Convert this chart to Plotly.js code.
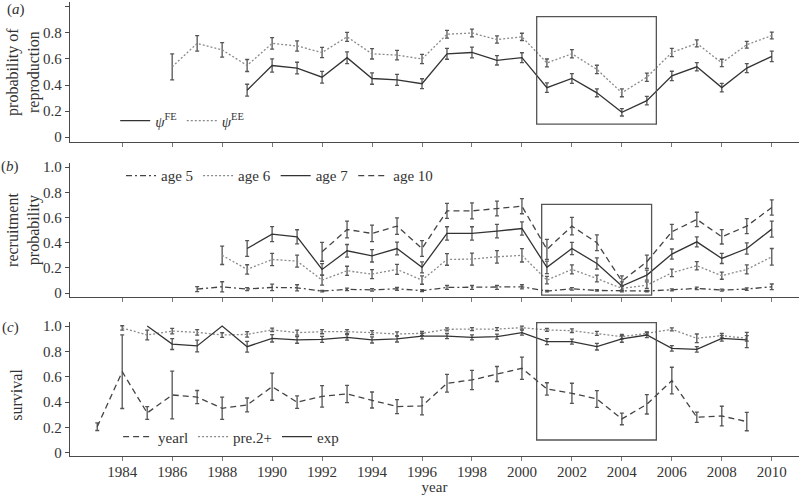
<!DOCTYPE html>
<html>
<head>
<meta charset="utf-8">
<script src="https://cdn.plot.ly/plotly-3.0.1.min.js"></script>
<style>html,body{margin:0;padding:0;background:#fff;}#chart{width:799px;height:495px;}</style>
</head>
<body>
<div id="chart"></div>
<script>
// ---------- Panel (a): probability of reproduction ----------
const yearsEE = [1986,1987,1988,1989,1990,1991,1992,1993,1994,1995,1996,1997,1998,1999,2000,2001,2002,2003,2004,2005,2006,2007,2008,2009,2010];
const psiEE    = [0.54,0.72,0.67,0.55,0.72,0.70,0.65,0.77,0.64,0.63,0.60,0.79,0.80,0.75,0.77,0.57,0.64,0.52,0.34,0.46,0.65,0.72,0.57,0.71,0.78];
const psiEEerr = [0.10,0.06,0.056,0.046,0.044,0.04,0.04,0.035,0.04,0.036,0.036,0.03,0.03,0.028,0.028,0.03,0.032,0.032,0.03,0.032,0.032,0.027,0.028,0.026,0.026];

const yearsFE = [1989,1990,1991,1992,1993,1994,1995,1996,1997,1998,1999,2000,2001,2002,2003,2004,2005,2006,2007,2008,2009,2010];
const psiFE    = [0.36,0.55,0.53,0.46,0.61,0.45,0.44,0.41,0.64,0.65,0.59,0.61,0.38,0.45,0.34,0.19,0.28,0.47,0.54,0.38,0.53,0.62];
const psiFEerr = [0.046,0.051,0.045,0.045,0.045,0.044,0.042,0.038,0.042,0.041,0.036,0.038,0.036,0.038,0.03,0.028,0.032,0.036,0.032,0.032,0.035,0.04];

// ---------- Panel (b): recruitment probability ----------
const yearsAge5 = [1987,1988,1989,1990,1991,1992,1993,1994,1995,1996,1997,1998,1999,2000,2001,2002,2003,2004,2005,2006,2007,2008,2009,2010];
const age5    = [0.032,0.05,0.032,0.045,0.042,0.016,0.029,0.026,0.034,0.019,0.045,0.045,0.045,0.05,0.016,0.034,0.021,0.016,0.016,0.026,0.037,0.024,0.032,0.05];
const age5err = [0.02,0.04,0.012,0.026,0.024,0.006,0.01,0.01,0.012,0.008,0.015,0.015,0.015,0.016,0.006,0.01,0.006,0.006,0.006,0.008,0.01,0.008,0.01,0.022];

const yearsAge6 = [1988,1989,1990,1991,1992,1993,1994,1995,1996,1997,1998,1999,2000,2001,2002,2003,2004,2005,2006,2007,2008,2009,2010];
const age6    = [0.30,0.188,0.267,0.254,0.103,0.177,0.151,0.188,0.103,0.267,0.27,0.288,0.30,0.103,0.188,0.116,0.037,0.063,0.161,0.217,0.138,0.188,0.288];
const age6err = [0.073,0.037,0.049,0.048,0.04,0.036,0.036,0.04,0.033,0.046,0.048,0.05,0.053,0.03,0.036,0.027,0.02,0.026,0.03,0.033,0.028,0.036,0.066];

const yearsAge7 = [1989,1990,1991,1992,1993,1994,1995,1996,1997,1998,1999,2000,2001,2002,2003,2004,2005,2006,2007,2008,2009,2010];
const age7    = [0.354,0.468,0.447,0.188,0.336,0.296,0.354,0.204,0.474,0.474,0.492,0.513,0.204,0.354,0.235,0.056,0.143,0.31,0.407,0.275,0.354,0.508];
const age7err = [0.063,0.06,0.056,0.046,0.05,0.049,0.05,0.044,0.053,0.053,0.053,0.053,0.05,0.048,0.044,0.033,0.04,0.04,0.04,0.04,0.045,0.063];

const yearsAge10 = [1992,1993,1994,1995,1996,1997,1998,1999,2000,2001,2002,2003,2004,2005,2006,2007,2008,2009,2010];
const age10    = [0.328,0.505,0.474,0.532,0.354,0.653,0.653,0.672,0.69,0.347,0.532,0.40,0.095,0.249,0.487,0.585,0.447,0.532,0.68];
const age10err = [0.075,0.066,0.066,0.066,0.062,0.06,0.063,0.058,0.06,0.08,0.07,0.062,0.042,0.053,0.058,0.057,0.057,0.06,0.06];

// ---------- Panel (c): survival ----------
const yearsYear1 = [1983,1984,1985,1986,1987,1988,1989,1990,1991,1992,1993,1994,1995,1996,1997,1998,1999,2000,2001,2002,2003,2004,2005,2006,2007,2008,2009];
const year1    = [0.207,0.64,0.315,0.457,0.44,0.352,0.378,0.522,0.40,0.446,0.465,0.417,0.365,0.37,0.549,0.575,0.622,0.667,0.504,0.47,0.425,0.268,0.383,0.57,0.281,0.291,0.247];
const year1err = [0.03,0.29,0.05,0.188,0.052,0.087,0.055,0.107,0.049,0.085,0.068,0.063,0.055,0.07,0.07,0.076,0.059,0.088,0.049,0.079,0.066,0.046,0.076,0.105,0.04,0.077,0.072];

const yearsPre2 = [1984,1985,1986,1987,1988,1989,1990,1991,1992,1993,1994,1995,1996,1997,1998,1999,2000,2001,2002,2003,2004,2005,2006,2007,2008,2009];
const pre2    = [0.985,0.929,0.96,0.95,0.929,0.934,0.969,0.948,0.955,0.955,0.948,0.937,0.942,0.974,0.976,0.976,0.987,0.969,0.963,0.942,0.916,0.942,0.974,0.903,0.924,0.903];
const pre2err = [0.017,0.038,0.022,0.022,0.018,0.022,0.014,0.02,0.016,0.016,0.016,0.016,0.016,0.012,0.012,0.012,0.012,0.012,0.014,0.016,0.017,0.012,0.012,0.034,0.017,0.022];

const yearsExp = [1985,1986,1987,1988,1989,1990,1991,1992,1993,1994,1995,1996,1997,1998,1999,2000,2001,2002,2003,2004,2005,2006,2007,2008,2009];
const expS    = [1.0,0.858,0.843,1.0,0.837,0.903,0.89,0.895,0.91,0.89,0.898,0.921,0.921,0.91,0.916,0.948,0.877,0.877,0.837,0.898,0.929,0.824,0.816,0.903,0.89];
const expErr  = [NaN,0.043,0.046,NaN,0.042,0.029,0.026,0.024,0.022,0.024,0.024,0.022,0.02,0.02,0.02,0.02,0.024,0.02,0.026,0.026,0.02,0.022,0.022,0.022,0.06];

// ---------- axis ticks and titles ----------
const xTickVals = [1984,1986,1988,1990,1992,1994,1996,1998,2000,2002,2004,2006,2008,2010];
const xTickText = ['1984','1986','1988','1990','1992','1994','1996','1998','2000','2002','2004','2006','2008','2010'];
const yTickVals = [0,0.2,0.4,0.6,0.8,1.0];
const yTickText = ['0','0.2','0.4','0.6','0.8','1.0'];
const yTitles = ['probability of<br>reproduction', 'recruitment<br>probability', 'survival'];
const panelLabels = ['(<i>a</i>)', '(<i>b</i>)', '(<i>c</i>)'];

// ---------- styling ----------
const FONT = "'Liberation Serif'";
const TXT = '#333333';
const AX = '#4a4a4a';
const ERRC = '#555555';

function errBar(arr){ return {type:'data', array:arr, visible:true, color:ERRC, thickness:1.3, width:2}; }
function trace(x, y, err, name, xa, ya, leg, color, dash, w){
  return {type:'scatter', mode:'lines', x:x, y:y, name:name, xaxis:xa, yaxis:ya, legend:leg,
          line:{color:color, width:w||1.3, dash:dash}, error_y:errBar(err), hoverinfo:'skip'};
}

const SOLID = 'solid', DOT = '2px,2px', DASH = '6px,4px', DASHDOT = '6px,3px,2px,3px';

const data = [
  trace(yearsFE, psiFE, psiFEerr, '<i>ψ</i><sup>FE</sup>', 'x', 'y', 'legend', '#333333', SOLID),
  trace(yearsEE, psiEE, psiEEerr, '<i>ψ</i><sup>EE</sup>', 'x', 'y', 'legend', '#8a8a8a', DOT),
  trace(yearsAge5, age5, age5err, 'age 5', 'x2', 'y2', 'legend2', '#444444', DASHDOT),
  trace(yearsAge6, age6, age6err, 'age 6', 'x2', 'y2', 'legend2', '#8a8a8a', DOT),
  trace(yearsAge7, age7, age7err, 'age 7', 'x2', 'y2', 'legend2', '#333333', SOLID),
  trace(yearsAge10, age10, age10err, 'age 10', 'x2', 'y2', 'legend2', '#444444', DASH),
  trace(yearsYear1, year1, year1err, 'yearl', 'x3', 'y3', 'legend3', '#444444', DASH),
  trace(yearsPre2, pre2, pre2err, 'pre.2+', 'x3', 'y3', 'legend3', '#8a8a8a', DOT),
  trace(yearsExp, expS, expErr, 'exp', 'x3', 'y3', 'legend3', '#333333', SOLID)
];

const XR = [1981.91, 2011.09];
function xAxis(anchor, showLabels){
  return {range:XR, anchor:anchor, showgrid:false, zeroline:false, showline:true, linecolor:AX, linewidth:1.3,
          ticks:'outside', ticklen:4, tickwidth:1, tickcolor:'#777', tickvals:xTickVals, ticktext:xTickText,
          showticklabels:showLabels, tickfont:{family:FONT, size:15, color:TXT}, fixedrange:true};
}
function yAxis(anchor, domain, range){
  return {domain:domain, range:range, anchor:anchor, showgrid:false, zeroline:false, showline:true, linecolor:AX, linewidth:1.3,
          ticks:'outside', ticklen:4, tickwidth:1, tickcolor:AX, tickvals:yTickVals, ticktext:yTickText,
          tickfont:{family:FONT, size:15, color:TXT}, fixedrange:true};
}

const legBase = {orientation:'h', xanchor:'left', yanchor:'middle', bgcolor:'rgba(0,0,0,0)', borderwidth:0,
                 font:{family:FONT, size:15, color:TXT}, itemwidth:30, itemclick:false, itemdoubleclick:false};

const rectStyle = {type:'rect', line:{color:'#555555', width:1.3}, fillcolor:'rgba(0,0,0,0)', layer:'above'};

function yTitle(text, yPaper, xshift){
  return {text:text, xref:'paper', yref:'paper', x:0, y:yPaper, xshift:xshift, textangle:-90, showarrow:false,
          xanchor:'center', yanchor:'middle', font:{family:FONT, size:16, color:TXT}};
}
function panelLabel(text, xPaper, yPaper){
  return {text:text, xref:'paper', yref:'paper', x:xPaper, y:yPaper, showarrow:false, xanchor:'center', yanchor:'middle',
          font:{family:FONT, size:15, color:TXT}};
}

const layout = {
  width:799, height:495,
  margin:{l:70, r:0, t:2, b:39},
  paper_bgcolor:'#ffffff', plot_bgcolor:'#ffffff',
  font:{family:FONT, color:TXT},
  showlegend:true,
  xaxis: xAxis('y', false),
  xaxis2: xAxis('y2', false),
  xaxis3: Object.assign(xAxis('y3', true), {ticklabelstandoff:-2, title:{text:'year', font:{family:FONT, size:15, color:TXT}, standoff:3}}),
  yaxis: yAxis('x', [0.6916, 1], [-0.038, 1.038]),
  yaxis2: yAxis('x2', [0.350, 0.645], [-0.032, 1.032]),
  yaxis3: yAxis('x3', [0, 0.295], [-0.024, 1.031]),
  legend: Object.assign({}, legBase, {x:0.062, y:0.738}),
  legend2: Object.assign({}, legBase, {x:0.07, y:0.617}),
  legend3: Object.assign({}, legBase, {x:0.066, y:0.042}),
  shapes:[
    Object.assign({}, rectStyle, {xref:'x', yref:'y', x0:2000.59, x1:2005.38, y0:0.10, y1:0.925}),
    Object.assign({}, rectStyle, {xref:'x2', yref:'y2', x0:2000.79, x1:2005.19, y0:-0.016, y1:0.704}),
    Object.assign({}, rectStyle, {xref:'x3', yref:'y3', x0:2000.59, x1:2005.38, y0:0.102, y1:1.026})
  ],
  annotations:[
    yTitle(yTitles[0], 0.846, -46),
    yTitle(yTitles[1], 0.498, -46),
    yTitle(yTitles[2], 0.135, -53),
    panelLabel(panelLabels[0], -0.0741, 0.984),
    panelLabel(panelLabels[1], -0.0823, 0.6366),
    panelLabel(panelLabels[2], -0.0823, 0.284)
  ]
};

Plotly.newPlot('chart', data, layout, {staticPlot:true, displayModeBar:false});
</script>
</body>
</html>
